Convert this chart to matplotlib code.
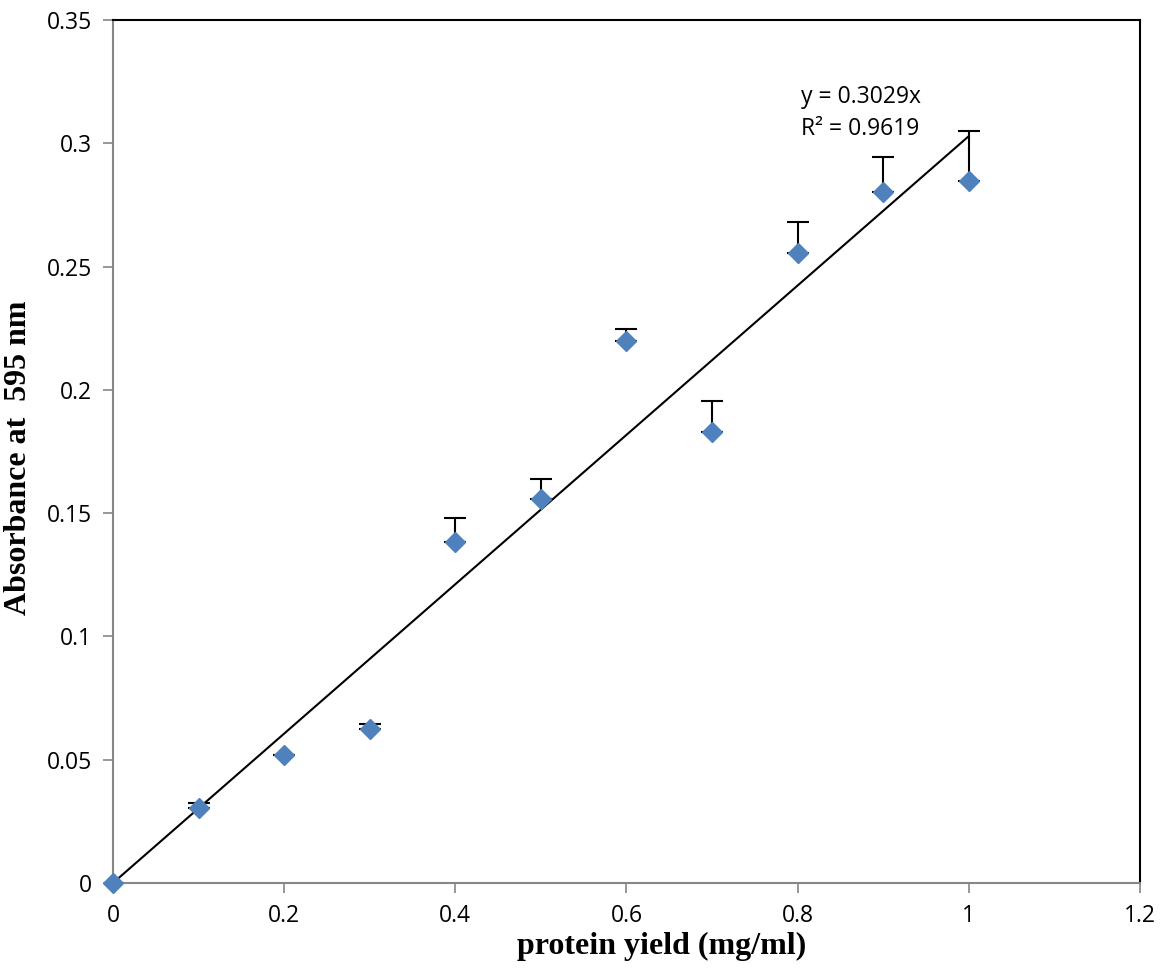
import matplotlib
matplotlib.use("Agg")
import matplotlib.pyplot as plt
import numpy as np

x = [0.0, 0.1, 0.2, 0.3, 0.4, 0.5, 0.6, 0.7, 0.8, 0.9, 1.0]
absorb = [0.0, 0.0304, 0.0520, 0.0623, 0.1383, 0.1557, 0.2198, 0.1829, 0.2555, 0.2802, 0.2847]
err_up = [0.0, 0.0020, 0.0, 0.0022, 0.0097, 0.0081, 0.0049, 0.0126, 0.0125, 0.0142, 0.0203]
slope = 0.3029
r2 = 0.9619

fig = plt.figure(figsize=(11.71, 9.75), dpi=100)
ax = fig.add_axes([0.0965, 0.0944, 0.877, 0.8851])

err = np.array([np.zeros(len(err_up)), err_up])
ax.errorbar(x, absorb, yerr=err, fmt='none', ecolor='black', elinewidth=1.5,
            capsize=8, capthick=1.5, zorder=2)
xl = np.array([0.0, 1.0])
ax.plot(xl, slope * xl, color='black', lw=1.5, zorder=3)
ax.plot(x, absorb, linestyle='none', marker='D', ms=10, color='#4F81BD',
        markeredgecolor='#4F81BD', zorder=4, clip_on=False)

ax.set_xlim(0, 1.2)
ax.set_ylim(0, 0.35)
ax.set_xticks(np.arange(0, 1.21, 0.2))
ax.set_xticklabels(['0', '0.2', '0.4', '0.6', '0.8', '1', '1.2'])
ax.set_yticks(np.arange(0, 0.351, 0.05))
ax.set_yticklabels(['0', '0.05', '0.1', '0.15', '0.2', '0.25', '0.3', '0.35'])

for s in ['left', 'bottom']:
    ax.spines[s].set_color('#868686')
    ax.spines[s].set_linewidth(1.5)
for s in ['top', 'right']:
    ax.spines[s].set_color('black')
    ax.spines[s].set_linewidth(1.5)
ax.tick_params(axis='both', direction='out', length=7, width=1.2, color='#868686',
               labelsize=16.5, pad=8)
for lab in ax.get_xticklabels() + ax.get_yticklabels():
    lab.set_fontfamily('Open Sans')

ax.set_xlabel('protein yield (mg/ml)', fontsize=23, fontweight='bold',
              family='Liberation Serif')
ax.set_ylabel('Absorbance at  595 nm', fontsize=23, fontweight='bold',
              family='Liberation Serif')
ax.xaxis.set_label_coords(0.534, -0.057)
ax.yaxis.set_label_coords(-0.078, 0.4925)

ax.text(0.804, 0.3123, 'y = 0.3029x\nR² = 0.9619', fontsize=16.5, family='Open Sans',
        ha='left', va='center', linespacing=1.45)

fig.savefig('out.png', dpi=100)
